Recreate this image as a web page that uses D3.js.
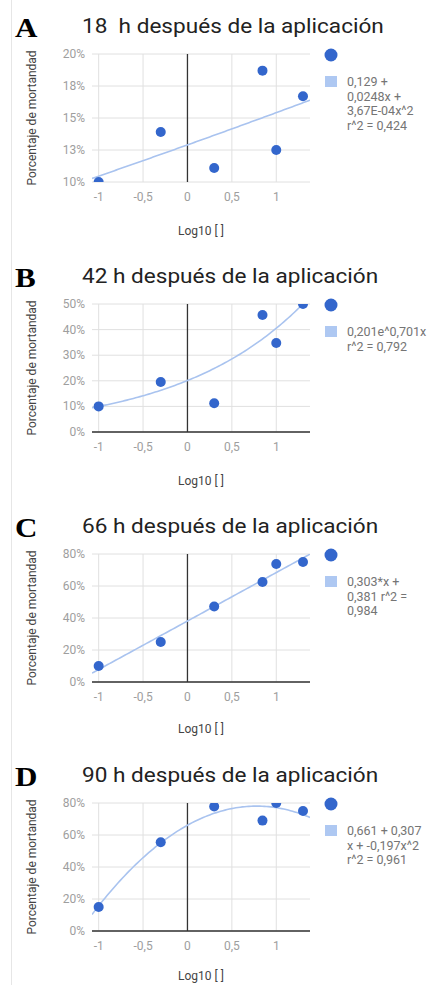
<!DOCTYPE html>
<html>
<head>
<meta charset="utf-8">
<script src="https://cdn.jsdelivr.net/npm/d3@7"></script>
<style>
  body { margin: 0; background: #fff; }
  text { font-family: Roboto, "Noto Sans", sans-serif; }
</style>
</head>
<body>
<div id="chart"></div>
<script>
// data
var xValues = [-1, -0.301, 0.301, 0.845, 1, 1.301];
var mortality18 = [0.100, 0.139, 0.111, 0.187, 0.125, 0.167];
var mortality42 = [0.100, 0.195, 0.112, 0.457, 0.348, 0.500];
var mortality66 = [0.100, 0.250, 0.472, 0.625, 0.737, 0.750];
var mortality90 = [0.150, 0.555, 0.778, 0.690, 0.800, 0.750];

var panelLetters = ['A', 'B', 'C', 'D'];
var panelTitles = [
	'18  h después de la aplicación',
	'42 h después de la aplicación',
	'66 h después de la aplicación',
	'90 h después de la aplicación'
];

var xTicks = [-1, -0.5, 0, 0.5, 1];
var xTickLabels = ['-1', '-0,5', '0', '0,5', '1'];

var yTicks18 = [0.10, 0.125, 0.15, 0.175, 0.20];
var yTickLabels18 = ['10%', '13%', '15%', '18%', '20%'];
var yTicks42 = [0, 0.1, 0.2, 0.3, 0.4, 0.5];
var yTickLabels42 = ['0%', '10%', '20%', '30%', '40%', '50%'];
var yTicks66 = [0, 0.2, 0.4, 0.6, 0.8];
var yTickLabels66 = ['0%', '20%', '40%', '60%', '80%'];
var yTicks90 = [0, 0.2, 0.4, 0.6, 0.8];
var yTickLabels90 = ['0%', '20%', '40%', '60%', '80%'];

// trendline coefficients as shown in the legends
var trend18 = [0.129, 0.0248, 3.67e-4];   // polynomial
var trend42 = [0.201, 0.701];             // exponential a*e^(b*x)
var trend66 = [0.381, 0.303];             // linear
var trend90 = [0.661, 0.307, -0.197];     // polynomial

var legend18 = ['0,129 +', '0,0248x +', '3,67E-04x^2', 'r^2 = 0,424'];
var legend42 = ['0,201e^0,701x', 'r^2 = 0,792'];
var legend66 = ['0,303*x +', '0,381 r^2 =', '0,984'];
var legend90 = ['0,661 + 0,307', 'x + -0,197x^2', 'r^2 = 0,961'];

var panelTops = [0, 250, 500, 749];
var xTitleY = [235, 235, 233, 231];

function poly(c) { return function(x) { return c.reduce(function(s, v, i) { return s + v * Math.pow(x, i); }, 0); }; }
function expo(c) { return function(x) { return c[0] * Math.exp(c[1] * x); }; }

var panels = [
	{ y: mortality18, ticks: yTicks18, labels: yTickLabels18, fit: poly(trend18), legend: legend18 },
	{ y: mortality42, ticks: yTicks42, labels: yTickLabels42, fit: expo(trend42), legend: legend42 },
	{ y: mortality66, ticks: yTicks66, labels: yTickLabels66, fit: poly(trend66), legend: legend66 },
	{ y: mortality90, ticks: yTicks90, labels: yTickLabels90, fit: poly(trend90), legend: legend90 }
];

var W = 436, H = 985;
var svg = d3.select('#chart').append('svg')
	.attr('width', W)
	.attr('height', H);

// faint frame line on the left
svg.append('line')
	.attr('x1', 11.5).attr('x2', 11.5)
	.attr('y1', 0).attr('y2', H)
	.attr('stroke', '#e6e6e6');

var x = d3.scaleLinear().domain([-1.075, 1.38]).range([92, 310]);
var dotColor = '#3366cc';
var trendColor = '#a9c3ef';

panels.forEach(function(p, i) {
	var top = panelTops[i];
	var g = svg.append('g').attr('transform', 'translate(0,' + top + ')');
	var y = d3.scaleLinear()
		.domain(d3.extent(p.ticks))
		.range([182, 54]);

	// panel letter
	g.append('text')
		.attr('transform', 'translate(15,37) scale(1.15,1)')
		.style('font-family', '"Liberation Serif", "Times New Roman", serif')
		.style('font-weight', 'bold')
		.style('font-size', '27px')
		.attr('fill', '#000')
		.text(panelLetters[i]);

	// title
	g.append('text')
		.attr('transform', 'translate(82,33) scale(1.13,1)')
		.attr('xml:space', 'preserve')
		.style('white-space', 'pre')
		.style('font-size', '20px')
		.attr('fill', '#222')
		.text(panelTitles[i]);

	// grid
	g.append('g').selectAll('line').data(p.ticks).join('line')
		.attr('x1', x.range()[0]).attr('x2', x.range()[1])
		.attr('y1', function(d) { return y(d); })
		.attr('y2', function(d) { return y(d); })
		.attr('stroke', '#e0e0e0');
	g.append('g').selectAll('line').data(xTicks.filter(function(d) { return d !== 0; })).join('line')
		.attr('x1', function(d) { return x(d); })
		.attr('x2', function(d) { return x(d); })
		.attr('y1', y.range()[1]).attr('y2', y.range()[0])
		.attr('stroke', '#e0e0e0');

	// baselines
	g.append('line')
		.attr('x1', x(0)).attr('x2', x(0))
		.attr('y1', y.range()[1]).attr('y2', y.range()[0])
		.attr('stroke', '#333').attr('stroke-width', 1.3);
	if (y.domain()[0] === 0) {
		g.append('line')
			.attr('x1', x.range()[0]).attr('x2', x.range()[1])
			.attr('y1', y(0)).attr('y2', y(0))
			.attr('stroke', '#333').attr('stroke-width', 1.3);
	}

	// tick labels
	g.append('g').selectAll('text').data(p.ticks).join('text')
		.attr('x', 85)
		.attr('y', function(d) { return y(d) + 4; })
		.attr('text-anchor', 'end')
		.style('font-size', '12px')
		.attr('fill', '#9e9e9e')
		.text(function(d, j) { return p.labels[j]; });
	g.append('g').selectAll('text').data(xTicks).join('text')
		.attr('x', function(d) { return x(d); })
		.attr('y', 201)
		.attr('text-anchor', 'middle')
		.style('font-size', '12px')
		.attr('fill', '#9e9e9e')
		.text(function(d, j) { return xTickLabels[j]; });

	// axis titles
	g.append('text')
		.attr('transform', 'translate(36,' + ((y.range()[0] + y.range()[1]) / 2) + ') rotate(-90)')
		.attr('text-anchor', 'middle')
		.style('font-size', '12px')
		.attr('fill', '#444')
		.text('Porcentaje de mortandad');
	g.append('text')
		.attr('x', 201).attr('y', xTitleY[i])
		.attr('text-anchor', 'middle')
		.style('font-size', '12px')
		.attr('fill', '#444')
		.text('Log10 [ ]');

	// clip to plot area
	var clipId = 'clip' + i;
	g.append('clipPath').attr('id', clipId)
		.append('rect')
		.attr('x', x.range()[0]).attr('y', y.range()[1])
		.attr('width', x.range()[1] - x.range()[0])
		.attr('height', y.range()[0] - y.range()[1]);
	var plot = g.append('g').attr('clip-path', 'url(#' + clipId + ')');

	// trendline
	var xs = d3.range(0, 101).map(function(k) { return x.domain()[0] + (x.domain()[1] - x.domain()[0]) * k / 100; });
	plot.append('path')
		.datum(xs)
		.attr('d', d3.line()
			.x(function(d) { return x(d); })
			.y(function(d) { return y(p.fit(d)); }))
		.attr('fill', 'none')
		.attr('stroke', trendColor)
		.attr('stroke-width', 1.6);

	// points
	plot.selectAll('circle').data(p.y).join('circle')
		.attr('cx', function(d, j) { return x(xValues[j]); })
		.attr('cy', function(d) { return y(d); })
		.attr('r', 5)
		.attr('fill', dotColor);

	// legend
	g.append('circle')
		.attr('cx', 331).attr('cy', 55)
		.attr('r', 6.5)
		.attr('fill', dotColor);
	g.append('rect')
		.attr('x', 325).attr('y', 76)
		.attr('width', 12).attr('height', 11)
		.attr('fill', '#aec8f2');
	g.selectAll('.leg').data(p.legend).join('text')
		.attr('class', 'leg')
		.attr('x', 347)
		.attr('y', function(d, j) { return 86 + j * 14.5; })
		.style('font-size', '12.5px')
		.attr('fill', '#757575')
		.text(function(d) { return d; });
});
</script>
</body>
</html>
